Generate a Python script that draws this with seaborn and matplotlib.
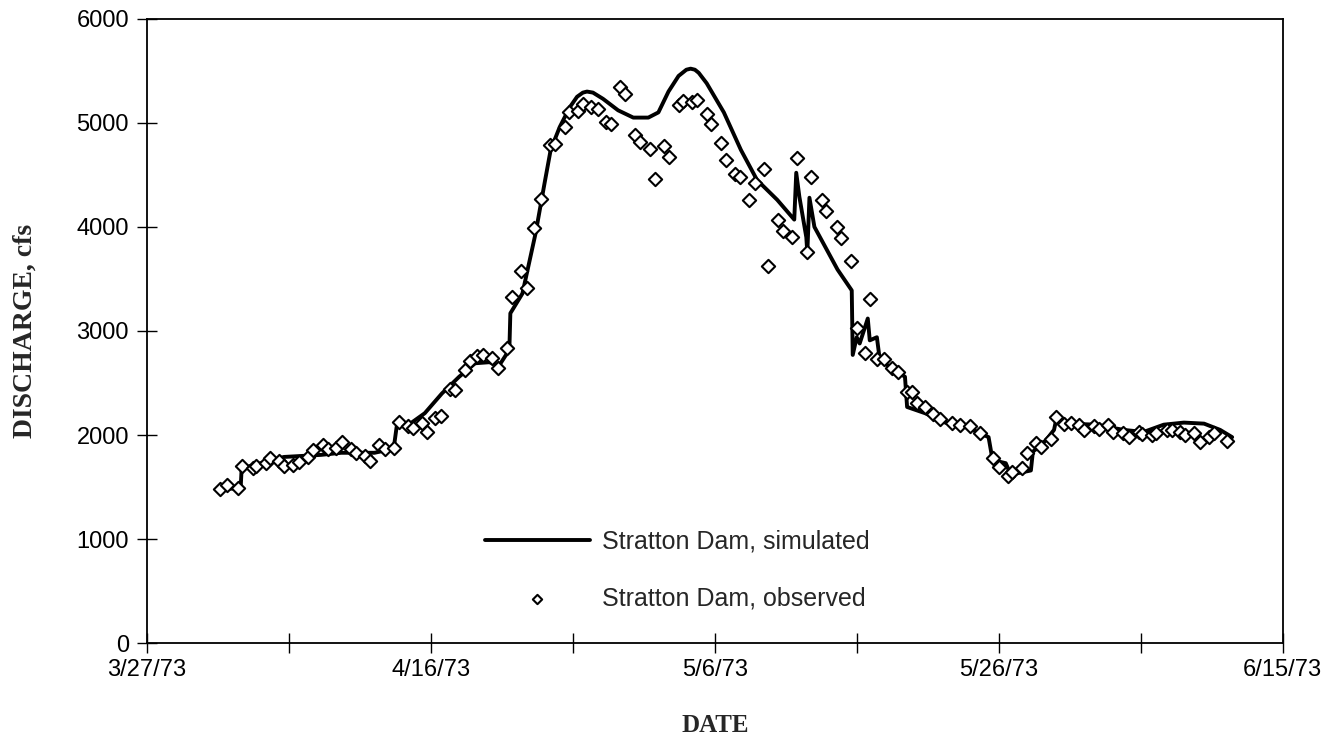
import matplotlib
matplotlib.use("Agg")
import matplotlib.pyplot as plt
import matplotlib.dates as mdates
import numpy as np
import pandas as pd
import seaborn as sns

# Stratton Dam discharge, spring 1973 (days counted from 3/27/73)
START = pd.Timestamp("1973-03-27")

sim_days = [5.18, 6.60, 6.67, 9.65, 12.27, 13.69, 14.89, 16.03, 17.38, 17.59,
            18.44, 19.57, 20.78, 21.99, 23.12, 24.11, 24.82, 25.53, 25.60, 26.45,
            27.38, 28.01, 28.44, 29.08, 29.79, 30.30, 30.71, 31.00, 31.42, 32.13,
            33.19, 34.26, 35.32, 36.03, 36.74, 37.45, 38.00, 38.30, 38.60, 38.87,
            39.43, 40.64, 41.84, 42.98, 44.40, 45.60, 45.74, 45.96, 46.45, 46.52,
            46.67, 47.02, 48.65, 49.65, 49.72, 50.00, 50.21, 50.78, 50.92, 51.42,
            51.63, 53.40, 53.55, 54.82, 56.24, 57.87, 59.29, 59.57, 60.50, 60.85,
            62.27, 62.41, 63.33, 63.90, 64.04, 64.96, 66.88, 68.79, 70.21, 71.63,
            73.05, 74.47, 75.60, 76.45]
sim_cfs = [1480, 1490, 1680, 1790, 1810, 1830, 1830, 1830, 1870, 2080,
           2100, 2210, 2400, 2560, 2690, 2700, 2670, 2820, 3170, 3360,
           3940, 4420, 4740, 4960, 5150, 5250, 5290, 5300, 5290, 5230,
           5120, 5050, 5050, 5100, 5300, 5450, 5510, 5520, 5510, 5480,
           5380, 5100, 4740, 4450, 4260, 4070, 4520, 4290, 3900, 3750,
           4280, 4000, 3590, 3390, 2770, 2940, 2880, 3120, 2910, 2940,
           2720, 2560, 2270, 2210, 2120, 2070, 1980, 1760, 1730, 1620,
           1660, 1840, 1950, 2050, 2140, 2110, 2100, 2050, 2030, 2100,
           2120, 2110, 2050, 1980]

obs_days = [5.18, 5.67, 6.38, 6.67, 7.45, 7.66, 8.37, 8.65, 9.29, 9.65,
            10.28, 10.71, 11.35, 11.70, 12.41, 12.77, 13.33, 13.76, 14.40, 14.75,
            15.39, 15.74, 16.38, 16.74, 17.38, 17.73, 18.37, 18.72, 19.36, 19.72,
            20.28, 20.71, 21.35, 21.70, 22.41, 22.77, 23.26, 23.69, 24.33, 24.75,
            25.39, 25.74, 26.38, 26.74, 27.30, 27.73, 28.37, 28.72, 29.43, 29.72,
            30.35, 30.71, 31.28, 31.77, 32.34, 32.70, 33.33, 33.69, 34.40, 34.75,
            35.46, 35.82, 36.45, 36.81, 37.45, 37.73, 38.37, 38.72, 39.43, 39.72,
            40.43, 40.78, 41.42, 41.77, 42.41, 42.84, 43.48, 43.76, 44.47, 44.82,
            45.46, 45.82, 46.52, 46.81, 47.52, 47.87, 48.58, 48.87, 49.57, 50.00,
            50.57, 50.92, 51.42, 51.91, 52.48, 52.91, 53.55, 53.90, 54.26, 54.82,
            55.39, 55.89, 56.74, 57.30, 58.01, 58.72, 59.57, 60.00, 60.64, 60.92,
            61.63, 61.99, 62.62, 62.98, 63.69, 64.04, 64.61, 65.11, 65.67, 66.03,
            66.74, 67.09, 67.73, 68.09, 68.79, 69.15, 69.86, 70.07, 70.78, 71.06,
            71.84, 72.20, 72.77, 73.12, 73.76, 74.18, 74.82, 75.18, 76.10]
obs_cfs = [1480, 1520, 1490, 1700, 1680, 1700, 1730, 1780, 1750, 1700,
           1710, 1740, 1790, 1860, 1900, 1870, 1880, 1930, 1870, 1830,
           1800, 1750, 1900, 1870, 1880, 2130, 2090, 2070, 2120, 2030,
           2160, 2180, 2440, 2430, 2630, 2710, 2760, 2770, 2740, 2640,
           2840, 3330, 3580, 3410, 3990, 4270, 4790, 4800, 4960, 5100,
           5110, 5180, 5150, 5130, 5010, 4990, 5340, 5280, 4880, 4820,
           4750, 4460, 4780, 4670, 5170, 5210, 5200, 5220, 5080, 4990,
           4810, 4640, 4510, 4480, 4260, 4420, 4560, 3620, 4070, 3960,
           3900, 4660, 3760, 4480, 4260, 4150, 4000, 3890, 3670, 3030,
           2790, 3310, 2730, 2730, 2640, 2610, 2410, 2410, 2310, 2270,
           2200, 2150, 2120, 2100, 2090, 2020, 1780, 1690, 1610, 1650,
           1680, 1830, 1920, 1890, 1960, 2170, 2110, 2120, 2100, 2050,
           2090, 2060, 2100, 2030, 2020, 1980, 2030, 2010, 2000, 2020,
           2050, 2050, 2030, 2000, 2020, 1930, 1980, 2020, 1940]

tick_days = [0, 10, 20, 30, 40, 50, 60, 70, 80]
tick_labels = ["3/27/73", "", "4/16/73", "", "5/6/73", "", "5/26/73", "", "6/15/73"]
y_ticks = [0, 1000, 2000, 3000, 4000, 5000, 6000]

sns.set_theme(style="ticks")
plt.rcParams["font.family"] = ["Liberation Sans", "DejaVu Sans"]

sim = pd.DataFrame({"date": START + pd.to_timedelta(sim_days, unit="D"), "cfs": sim_cfs})
obs = pd.DataFrame({"date": START + pd.to_timedelta(obs_days, unit="D"), "cfs": obs_cfs})

fig = plt.figure(figsize=(13.36, 7.48), dpi=100)
ax = fig.add_axes([0.110, 0.140, 0.850, 0.835])

sns.lineplot(data=sim, x="date", y="cfs", color="black", linewidth=2.8,
             estimator=None, sort=False, ax=ax, label="Stratton Dam, simulated", zorder=2)
sns.scatterplot(data=obs, x="date", y="cfs", marker="D", s=46, color="white",
                edgecolor="black", linewidth=1.5, ax=ax,
                label="Stratton Dam, observed", zorder=3)

tick_pos = [mdates.date2num(START + pd.Timedelta(days=d)) for d in tick_days]
ax.set_xlim(tick_pos[0], tick_pos[-1])
ax.set_xticks(tick_pos)
ax.set_xticklabels(tick_labels)
ax.set_ylim(0, 6000)
ax.set_yticks(y_ticks)

ax.tick_params(axis="both", direction="inout", length=14, width=1.0,
               labelsize=17, colors="black", pad=4)
ax.tick_params(axis="y", pad=6)
for sp in ax.spines.values():
    sp.set_visible(True)
    sp.set_color("black")
    sp.set_linewidth(1.3)

ax.set_xlabel("DATE", fontfamily="Liberation Serif", fontweight="bold",
              fontsize=18, labelpad=24)
ax.set_ylabel("DISCHARGE, cfs", fontfamily="Liberation Serif", fontweight="bold",
              fontsize=20, labelpad=28)

ax.legend(loc="center", bbox_to_anchor=(0.467, 0.117), frameon=False, fontsize=18,
          handlelength=4.2, handletextpad=0.5, labelspacing=1.3, markerscale=0.7)

fig.savefig("out.png", dpi=100, facecolor="white")
